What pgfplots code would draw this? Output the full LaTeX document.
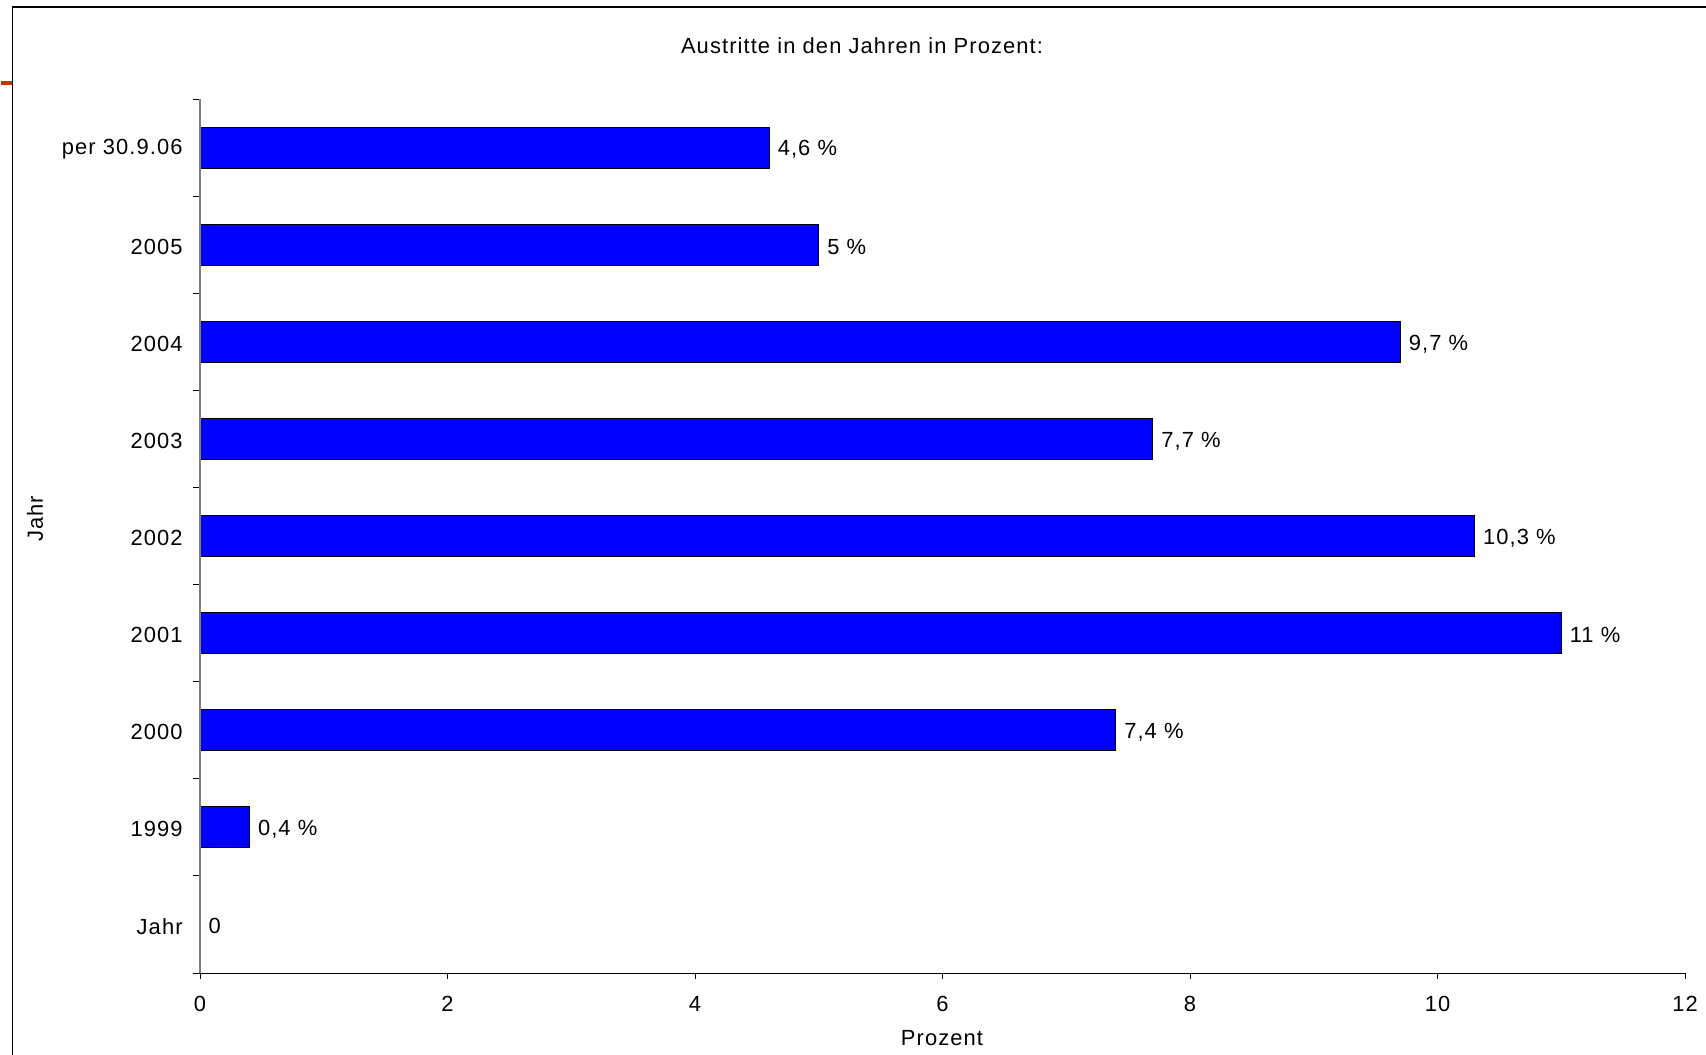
\documentclass[border=0pt]{standalone}
\usepackage{pgfplots}
\pgfplotsset{compat=1.18}
\usepackage{fontspec}
\setmainfont{Liberation Sans}[LetterSpace=5]
\definecolor{redtick}{RGB}{204,51,0}
\definecolor{barblue}{RGB}{0,0,255}
\newcommand{\chartfont}{\fontsize{11}{13}\selectfont}
\begin{document}
\begin{tikzpicture}
\useasboundingbox (0,0) rectangle (853bp,527.5bp);
% frame of the cropped sheet
\draw[line width=0.7bp] (6.2bp,0) -- (6.2bp,524bp) -- (853bp,524bp);
\draw[line width=2bp, redtick] (0.5bp,486bp) -- (6.2bp,486bp);
\begin{axis}[
    at={(100bp,41bp)}, anchor=south west,
    scale only axis,
    width=742.5bp, height=437bp,
    xbar, bar width=20.5bp,
    xmin=0, xmax=12,
    ymin=-0.5, ymax=8.5,
    xtick={0,2,...,12},
    ytick={0,...,8},
    yticklabels={Jahr,1999,2000,2001,2002,2003,2004,2005,per 30.9.06},
    minor ytick={-0.5,0.5,...,8.5},
    axis x line*=bottom, axis y line*=left,
    x axis line style={black, line width=0.5bp, -},
    y axis line style={gray, line width=0.6bp, -},
    tick align=outside,
    tick style={black, line width=0.5bp},
    major tick length=3bp,
    minor tick length=3.5bp,
    major y tick style={draw=none},
    /pgf/number format/assume math mode=true,
    tick label style={font=\chartfont},
    xticklabel style={inner sep=0pt, yshift=-8.3bp},
    yticklabel style={inner sep=0pt, xshift=-5.5bp, yshift=-1bp},
    axis on top,
    nodes near coords,
    point meta=explicit symbolic,
    every node near coord/.style={font=\chartfont, anchor=west, inner sep=0pt, xshift=4bp, yshift=-1bp},
]
\addplot[fill=barblue, draw=black, line width=0.5bp] coordinates {
    (0,0) [0]
    (0.4,1) [0,4 \%]
    (7.4,2) [7,4 \%]
    (11,3) [11 \%]
    (10.3,4) [10,3 \%]
    (7.7,5) [7,7 \%]
    (9.7,6) [9,7 \%]
    (5,7) [5 \%]
    (4.6,8) [4,6 \%]
};
\end{axis}
\node[font=\chartfont] at (431bp,504.5bp) {Austritte in den Jahren in Prozent:};
\node[font=\chartfont, rotate=90] at (17.5bp,268bp) {Jahr};
\node[font=\chartfont] at (471bp,8.5bp) {Prozent};
\end{tikzpicture}
\end{document}
